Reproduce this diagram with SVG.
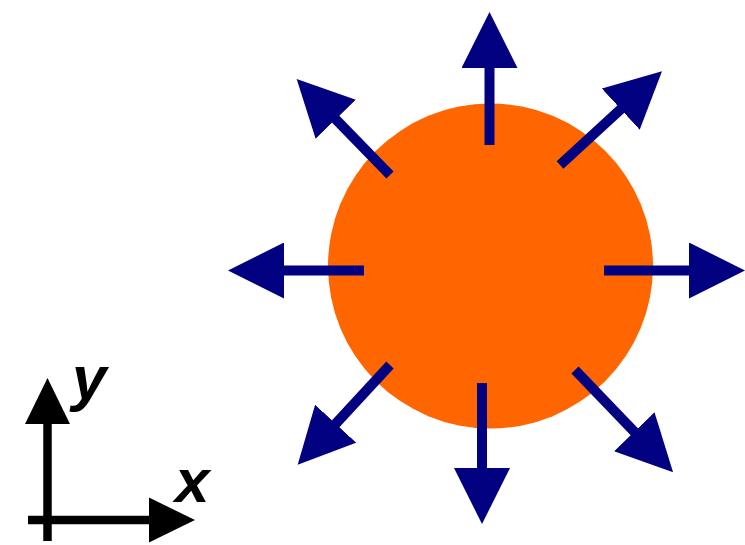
<svg xmlns="http://www.w3.org/2000/svg" width="745" height="545" viewBox="0 0 745 545">
  <style>
    .flux { stroke: #000080; stroke-width: 10; fill: none; marker-end: url(#navyHead); }
    .axis { stroke: #000000; stroke-width: 8.5; fill: none; marker-end: url(#blackHead); }
    .lbl { font-family: "Liberation Sans", Arial, sans-serif; font-weight: bold; font-style: italic; font-size: 62px; fill: #000000; }
  </style>
  <defs>
    <marker id="navyHead" markerUnits="userSpaceOnUse" markerWidth="56" markerHeight="56" viewBox="0 0 55 55" refX="1" refY="27.5" orient="auto">
      <path d="M0,0 L55,27.5 L0,55 z" fill="#000080"/>
    </marker>
    <marker id="blackHead" markerUnits="userSpaceOnUse" markerWidth="46" markerHeight="46" viewBox="0 0 45 44" refX="1" refY="22" orient="auto">
      <path d="M0,0 L45,22 L0,44 z" fill="#000000"/>
    </marker>
  </defs>
  <rect width="745" height="545" fill="#ffffff"/>
  <g id="sphere">
    <circle cx="490.5" cy="266" r="162.5" fill="#FF6600"/>
  </g>
  <g id="connectors">
    <line class="flux" x1="489.5" y1="145" x2="489.5" y2="67"/>
    <line class="flux" x1="482" y1="383" x2="482" y2="469"/>
    <line class="flux" x1="364" y1="270.5" x2="283" y2="270.5"/>
    <line class="flux" x1="604" y1="270.5" x2="690" y2="270.5"/>
    <line class="flux" x1="560" y1="165" x2="621.5" y2="108.5"/>
    <line class="flux" x1="390" y1="175" x2="335" y2="118.5"/>
    <line class="flux" x1="390" y1="365" x2="335" y2="424.5"/>
    <line class="flux" x1="575" y1="370" x2="635" y2="432.5"/>
  </g>
  <g id="axes">
    <line class="axis" x1="47.5" y1="541" x2="47.5" y2="423"/>
    <line class="axis" x1="28" y1="520" x2="150" y2="520"/>
    <text class="lbl" x="72" y="399">y</text>
    <text class="lbl" x="175" y="502">x</text>
  </g>
</svg>
